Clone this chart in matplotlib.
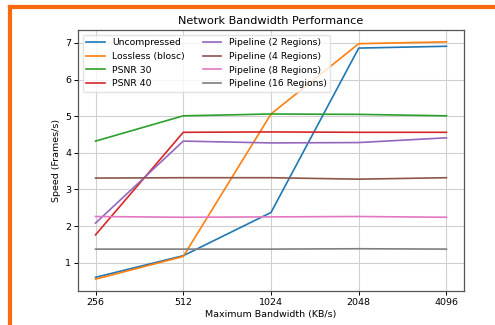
import matplotlib
matplotlib.use("Agg")
import matplotlib.pyplot as plt
from matplotlib.lines import Line2D

bandwidths = ["256", "512", "1024", "2048", "4096"]

uncompressed = [0.60, 1.19, 2.37, 6.86, 6.91]
lossless = [0.55, 1.17, 5.06, 6.98, 7.03]
psnr30 = [4.32, 5.01, 5.06, 5.05, 5.01]
psnr40 = [1.76, 4.56, 4.57, 4.56, 4.56]
pipe2 = [2.08, 4.32, 4.27, 4.28, 4.41]
pipe4 = [3.31, 3.32, 3.32, 3.28, 3.32]
pipe8 = [2.26, 2.24, 2.25, 2.26, 2.24]
pipe16 = [1.37, 1.37, 1.37, 1.38, 1.37]

series = [
    ("Uncompressed", uncompressed),
    ("Lossless (blosc)", lossless),
    ("PSNR 30", psnr30),
    ("PSNR 40", psnr40),
    ("Pipeline (2 Regions)", pipe2),
    ("Pipeline (4 Regions)", pipe4),
    ("Pipeline (8 Regions)", pipe8),
    ("Pipeline (16 Regions)", pipe16),
]

fig = plt.figure(figsize=(4.95, 3.25), dpi=100)
ax = fig.add_axes([78 / 495, 1 - 291 / 325, (464 - 78) / 495, (291 - 30) / 325])

x = list(range(len(bandwidths)))
for name, vals in series:
    ax.plot(x, vals, label=name, linewidth=1.2)

ax.set_xticks(x)
ax.set_xticklabels(bandwidths)
ax.set_yticks([1, 2, 3, 4, 5, 6, 7])
ax.tick_params(labelsize=6.8, length=3, width=0.7, pad=2)
ax.grid(True, color="#d0d0d0", linewidth=0.8)
for s in ax.spines.values():
    s.set_linewidth(0.9)
    s.set_color("#555555")

ax.set_title("Network Bandwidth Performance", fontsize=8.1, pad=4)
ax.set_xlabel("Maximum Bandwidth (KB/s)", fontsize=6.8, labelpad=2)
ax.set_ylabel("Speed (Frames/s)", fontsize=6.8, labelpad=3)
ax.legend(ncol=2, loc="upper left", fontsize=6.7, handlelength=2.0,
          columnspacing=1.9, labelspacing=0.5, borderpad=0.4,
          framealpha=0.8, edgecolor="#dddddd")

# orange frame around the figure
frame_color = "#fb6a0e"
fig.add_artist(Line2D([10 / 495, 10 / 495], [1 - 7 / 325, 0], transform=fig.transFigure,
                      color=frame_color, linewidth=3.0, solid_capstyle="projecting"))
fig.add_artist(Line2D([10 / 495, 1], [1 - 7 / 325, 1 - 7 / 325], transform=fig.transFigure,
                      color=frame_color, linewidth=3.0, solid_capstyle="projecting"))

fig.savefig("out.png", dpi=100)
